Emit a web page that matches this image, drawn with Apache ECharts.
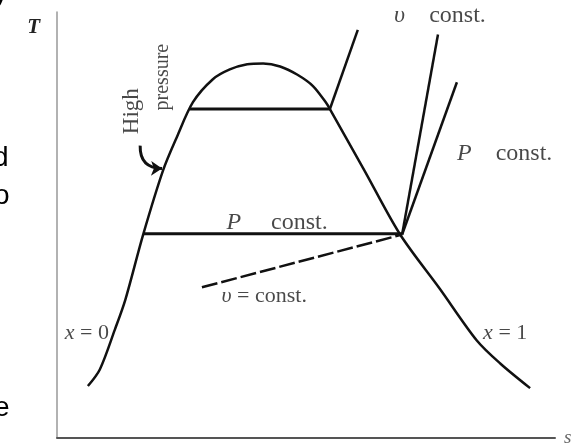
<!DOCTYPE html>
<html>
<head>
<meta charset="utf-8">
<script src="https://cdn.jsdelivr.net/npm/echarts@6/dist/echarts.min.js"></script>
<style>
  html, body { margin: 0; padding: 0; background: #fff; }
  #chart { width: 581px; height: 447px; }
</style>
</head>
<body>
<div id="chart"></div>
<script>
// Saturation dome on the T-s plane (x = 0 liquid line, then x = 1 vapour line)
const domeS = [6.2, 8.6, 11.6, 13.7, 17.3, 21.3, 24.1, 27.3, 31.3, 34.7, 38.2, 41.4, 44.8, 48.2, 51.4, 54.2, 54.8, 61.8, 68.9, 76.9, 84.3, 89.0, 95.0];
const domeT = [12.1, 16.0, 25.3, 32.3, 47.7, 62.8, 70.7, 78.8, 84.2, 86.5, 87.7, 87.9, 87.2, 85.3, 82.6, 78.4, 77.2, 62.6, 47.7, 34.9, 22.8, 17.4, 11.6];

// Constant-pressure lines across the wet region
const hiPressS = [26.7, 54.8];
const hiPressT = [77.2, 77.2];
const loPressS = [17.3, 69.3];
const loPressT = [47.9, 47.9];

// Lines leaving the saturated-vapour states
const vUpperS = [54.8, 60.4];
const vUpperT = [77.2, 95.8];
const vSuperS = [69.3, 76.5];
const vSuperT = [47.7, 94.7];
const pSuperS = [69.3, 80.3];
const pSuperT = [47.7, 83.5];
const vWetS = [29.1, 69.3];
const vWetT = [35.3, 47.7];

// Pointer from the "High pressure" note to the liquid line
const arrowFrom = [16.7, 68.6];
const arrowTo = [21.1, 63.2];

// Annotations
const noteText = ['{i|υ}    const.', '{i|P}    const.', '{i|P}     const.', '{i|υ} = const.', '{i|x} = 0', '{i|x} = 1', 'High', 'pressure'];
const noteS = [76.9, 89.9, 44.2, 41.6, 6.0, 90.0, 15.1, 21.3];
const noteT = [99.2, 66.7, 50.5, 33.3, 24.4, 24.4, 76.7, 84.7];
const noteSize = [24, 24, 24, 22, 22, 22, 23, 20];
const noteRotate = [0, 0, 0, 0, 0, 0, 90, 90];

const pairs = (xs, ys) => xs.map((x, i) => [x, ys[i]]);
const ink = '#111';
const serif = 'Liberation Serif';

function lineSeries(name, xs, ys, width, extra) {
  return Object.assign({
    name: name,
    type: 'line',
    data: pairs(xs, ys),
    symbol: 'none',
    silent: true,
    lineStyle: { color: ink, width: width },
    z: 3
  }, extra || {});
}

const chart = echarts.init(document.getElementById('chart'), null, { renderer: 'canvas' });

chart.setOption({
  animation: false,
  backgroundColor: '#fff',
  grid: { left: 57, right: 26, top: 12, bottom: 5 },
  xAxis: {
    type: 'value', min: 0, max: 100,
    name: 's', nameLocation: 'end', nameGap: 9,
    nameTextStyle: { fontFamily: serif, fontStyle: 'italic', fontSize: 19, color: '#666', align: 'left', verticalAlign: 'middle' },
    axisLine: { show: true, lineStyle: { color: '#555', width: 2 } },
    axisTick: { show: false }, axisLabel: { show: false }, splitLine: { show: false }
  },
  yAxis: {
    type: 'value', min: 0, max: 100,
    name: 'T', nameLocation: 'end', nameGap: -16,
    nameTextStyle: { fontFamily: serif, fontStyle: 'italic', fontWeight: 'bold', fontSize: 21, color: '#222', align: 'right', verticalAlign: 'middle', padding: [0, 17, 0, 0] },
    axisLine: { show: true, lineStyle: { color: '#999', width: 1.5 } },
    axisTick: { show: false }, axisLabel: { show: false }, splitLine: { show: false }
  },
  graphic: [
    // letters of the neighbouring page text, cut by the left edge
    { type: 'text', left: -6, top: -21, style: { text: 'y', font: '28px "Liberation Sans"', fill: '#000' } },
    { type: 'text', left: -7, top: 144, style: { text: 'd', font: '28px "Liberation Sans"', fill: '#000' } },
    { type: 'text', left: -6, top: 182, style: { text: 'o', font: '28px "Liberation Sans"', fill: '#000' } },
    { type: 'text', left: -6, top: 394, style: { text: 'e', font: '28px "Liberation Sans"', fill: '#000' } }
  ],
  series: [
    lineSeries('dome', domeS, domeT, 2.5, { smooth: 0.3 }),
    lineSeries('hiPress', hiPressS, hiPressT, 3),
    lineSeries('loPress', loPressS, loPressT, 3),
    lineSeries('vUpper', vUpperS, vUpperT, 2.5),
    lineSeries('vSuper', vSuperS, vSuperT, 2.5),
    lineSeries('pSuper', pSuperS, pSuperT, 2.5),
    lineSeries('vWet', vWetS, vWetT, 2.5, { lineStyle: { color: ink, width: 2.5, type: [16, 4] } }),
    {
      type: 'lines',
      coordinateSystem: 'cartesian2d',
      silent: true,
      symbol: ['none', 'arrow'],
      symbolSize: 11,
      lineStyle: { color: ink, width: 3, curveness: -0.5, opacity: 1 },
      data: [{ coords: [arrowFrom, arrowTo] }],
      z: 4
    },
    {
      type: 'scatter',
      silent: true,
      symbolSize: 0,
      data: noteS.map((s, i) => ({
        value: [s, noteT[i]],
        label: {
          show: true,
          position: 'inside',
          formatter: noteText[i],
          rotate: noteRotate[i],
          fontSize: noteSize[i],
          fontFamily: serif,
          color: '#1a1a1a',
          rich: { i: { fontStyle: 'italic', fontSize: noteSize[i], fontFamily: serif, color: '#1a1a1a' } }
        }
      })),
      z: 5
    }
  ]
});
</script>
</body>
</html>
